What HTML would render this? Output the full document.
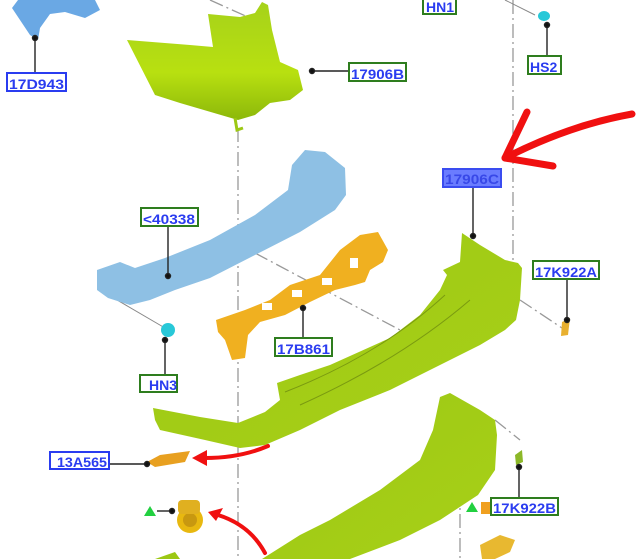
<!DOCTYPE html>
<html><head><meta charset="utf-8"><style>
html,body{margin:0;padding:0;background:#fff;width:640px;height:559px;overflow:hidden}
svg{display:block}
.lb{font-family:"Liberation Sans",sans-serif;font-weight:bold;font-size:14px;fill:#2a3cf0}
</style></head><body>
<svg width="640" height="559" viewBox="0 0 640 559" xmlns="http://www.w3.org/2000/svg">
<defs>
<linearGradient id="g1" x1="0" y1="0" x2="0" y2="1"><stop offset="0" stop-color="#a6d21a"/><stop offset="0.6" stop-color="#b8e010"/><stop offset="1" stop-color="#8cb80a"/></linearGradient>
<linearGradient id="g2" x1="0" y1="0" x2="1" y2="1"><stop offset="0" stop-color="#9cc814"/><stop offset="1" stop-color="#a8d018"/></linearGradient>
</defs>
<g fill="none" stroke="#999" stroke-width="1.3" stroke-dasharray="14,4,2,4">
<line x1="238" y1="128" x2="238" y2="559"/>
<line x1="513" y1="0" x2="513" y2="300"/>
<line x1="460" y1="490" x2="460" y2="559"/>
<line x1="255" y1="253" x2="400" y2="330"/>
<line x1="520" y1="300" x2="565" y2="330"/>
<line x1="210" y1="0" x2="250" y2="18"/>
<line x1="495" y1="420" x2="520" y2="440"/>
</g>
<line x1="100" y1="290" x2="165" y2="328" stroke="#888" stroke-width="1"/>
<line x1="505" y1="0" x2="535" y2="15" stroke="#888" stroke-width="1"/>
<path d="M18,0 L95,0 L100,10 L85,18 L65,12 L50,14 L40,28 L38,40 L30,35 L20,20 L12,8 Z" fill="#6aa8e4"/>
<path d="M127,40 L190,45 L213,47 L208,14 L240,17 L255,13 L262,2 L268,5 L272,30 L280,62 L298,70 L303,90 L290,100 L270,103 L255,115 L238,120 L180,103 L155,95 Z" fill="url(#g1)"/>
<path d="M235,118 L237,130 L243,128" stroke="#9cc814" stroke-width="3" fill="none"/>
<!-- blue beam -->
<path d="M97,270 L120,262 L135,268 L165,258 L210,240 L255,215 L288,190 L292,165 L305,150 L325,152 L345,168 L346,195 L335,210 L300,232 L255,255 L210,278 L175,290 L150,300 L130,305 L108,298 L97,290 Z" fill="#8ec0e4"/>
<!-- orange bracket -->
<path d="M216,320 L245,310 L270,300 L290,285 L320,275 L340,250 L360,235 L378,232 L388,250 L383,262 L370,270 L365,282 L355,285 L335,290 L310,302 L285,315 L260,322 L248,335 L245,358 L232,360 L225,340 L218,332 Z" fill="#f0b020"/>
<g fill="#fff"><rect x="262" y="303" width="10" height="7"/><rect x="292" y="290" width="10" height="7"/><rect x="322" y="278" width="10" height="7"/><rect x="350" y="258" width="8" height="10"/></g>
<ellipse cx="168" cy="330" rx="7" ry="7" fill="#28c8d8"/>
<ellipse cx="544" cy="16" rx="6" ry="5" fill="#28c8d8"/>
<path d="M153,408 L200,417 L238,423 L265,412 L280,400 L277,383 L300,375 L330,365 L390,338 L420,315 L440,290 L447,275 L443,270 L460,262 L462,233 L480,245 L505,260 L518,263 L522,268 L520,300 L516,320 L505,330 L480,345 L440,365 L390,390 L340,410 L300,430 L265,445 L240,448 L205,440 L160,430 L155,420 Z" fill="url(#g2)"/>
<path d="M285,392 Q380,355 445,295 M300,405 Q400,360 470,300" stroke="#7a9a10" stroke-width="1" fill="none"/>
<path d="M262,559 L300,535 L330,520 L380,490 L420,460 L433,430 L440,397 L450,393 L480,410 L495,420 L497,435 L495,470 L478,495 L440,520 L400,540 L350,559 Z" fill="url(#g2)"/>
<path d="M155,559 L175,552 L180,559 Z" fill="#9cc814"/>
<path d="M562,322 L570,318 L568,335 L561,336 Z" fill="#e8b030"/>
<path d="M515,455 L522,450 L523,462 L516,465 Z" fill="#8cb828"/>
<path d="M147,462 L160,455 L190,451 L185,462 L155,467 Z" fill="#e8a020"/>
<circle cx="190" cy="520" r="13" fill="#e8b810"/><circle cx="190" cy="520" r="7" fill="#c89810"/><rect x="178" y="500" width="22" height="14" rx="4" fill="#e0b020"/>
<path d="M480,545 L500,535 L515,540 L510,552 L495,559 L482,559 Z" fill="#e8b830"/>
<polygon points="144,516 150,506 156,516" fill="#22d040"/>
<polygon points="466,512 472,502 478,512" fill="#22d040"/>
<rect x="481" y="502" width="10" height="12" fill="#f0a020"/>
<g stroke="#222" stroke-width="1.4" fill="#111">
<line x1="35" y1="38" x2="35" y2="73"/><circle cx="35" cy="38" r="2.5"/>
<line x1="312" y1="71" x2="349" y2="71"/><circle cx="312" cy="71" r="2.5"/>
<line x1="547" y1="25" x2="547" y2="56"/><circle cx="547" cy="25" r="2.5"/>
<line x1="473" y1="187" x2="473" y2="236"/><circle cx="473" cy="236" r="2.5"/>
<line x1="168" y1="226" x2="168" y2="276"/><circle cx="168" cy="276" r="2.5"/>
<line x1="567" y1="279" x2="567" y2="320"/><circle cx="567" cy="320" r="2.5"/>
<line x1="303" y1="308" x2="303" y2="338"/><circle cx="303" cy="308" r="2.5"/>
<line x1="165" y1="340" x2="165" y2="375"/><circle cx="165" cy="340" r="2.5"/>
<line x1="109" y1="464" x2="147" y2="464"/><circle cx="147" cy="464" r="2.5"/>
<line x1="157" y1="511" x2="172" y2="511"/><circle cx="172" cy="511" r="2.5"/>
<line x1="519" y1="467" x2="519" y2="498"/><circle cx="519" cy="467" r="2.5"/>
</g>
<g stroke="#f01010" stroke-width="7" fill="none" stroke-linecap="round" stroke-linejoin="round">
<path d="M632,114 Q570,125 505,158"/>
<path d="M527,112 L505,158 L553,166"/>
</g>
<g stroke="#f01010" stroke-width="4" fill="none" stroke-linecap="round">
<path d="M268,446 Q240,458 205,458"/>
<path d="M265,553 Q250,525 218,515"/>
</g>
<polygon points="192,458 207,450 207,466" fill="#f01010"/>
<polygon points="208,512 223,508 216,521" fill="#f01010"/>
<g stroke-width="2" fill="#fff">
<rect x="7" y="73" width="59" height="18" stroke="#2a3cf0"/>
<rect x="349" y="63" width="57" height="18" stroke="#2e7d1e"/>
<rect x="423" y="-3" width="33" height="17" stroke="#2e7d1e"/>
<rect x="528" y="56" width="33" height="18" stroke="#2e7d1e"/>
<rect x="443" y="169" width="58" height="18" stroke="#3a4cf0" fill="#6a7cff"/>
<rect x="141" y="208" width="57" height="18" stroke="#2e7d1e"/>
<rect x="533" y="261" width="66" height="18" stroke="#2e7d1e"/>
<rect x="275" y="338" width="57" height="18" stroke="#2e7d1e"/>
<rect x="140" y="375" width="37" height="17" stroke="#2e7d1e"/>
<rect x="50" y="452" width="59" height="17" stroke="#2a3cf0"/>
<rect x="491" y="498" width="67" height="17" stroke="#2e7d1e"/>
</g>
<text class="lb" x="9" y="89" textLength="55" lengthAdjust="spacingAndGlyphs">17D943</text>
<text class="lb" x="351" y="79" textLength="53" lengthAdjust="spacingAndGlyphs">17906B</text>
<text class="lb" x="426" y="12">HN1</text>
<text class="lb" x="530" y="72">HS2</text>
<text class="lb" x="445" y="184" style="fill:#3848e8" textLength="54" lengthAdjust="spacingAndGlyphs">17906C</text>
<text class="lb" x="143" y="224" textLength="52" lengthAdjust="spacingAndGlyphs">&lt;40338</text>
<text class="lb" x="535" y="277" textLength="62" lengthAdjust="spacingAndGlyphs">17K922A</text>
<text class="lb" x="277" y="354" textLength="53" lengthAdjust="spacingAndGlyphs">17B861</text>
<text class="lb" x="149" y="390">HN3</text>
<text class="lb" x="57" y="467" textLength="50" lengthAdjust="spacingAndGlyphs">13A565</text>
<text class="lb" x="493" y="513" textLength="63" lengthAdjust="spacingAndGlyphs">17K922B</text>
</svg>
</body></html>
